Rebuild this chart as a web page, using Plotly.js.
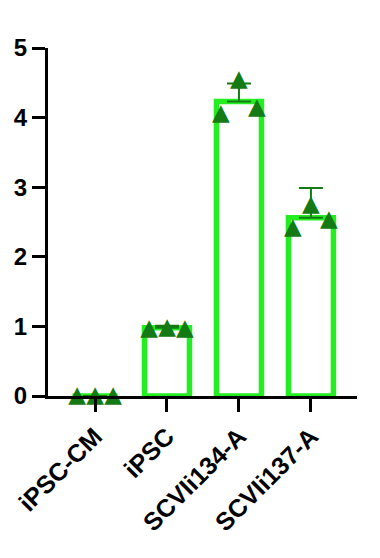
<!DOCTYPE html>
<html>
<head>
<meta charset="utf-8">
<script src="https://cdn.plot.ly/plotly-3.0.1.min.js"></script>
<style>html,body{margin:0;padding:0;background:#fff;}#chart{width:380px;height:558px;}</style>
</head>
<body>
<div id="chart"></div>
<script>
// ---- data ----
var categories = ['iPSC-CM', 'iPSC', 'SCVIi134-A', 'SCVIi137-A'];
var means = [0, 0.98, 4.23, 2.56];
var errUp = [0, 0.03, 0.26, 0.43];
var rep1 = [0, 0.96, 4.05, 2.41];
var rep2 = [0, 0.98, 4.53, 2.74];
var rep3 = [0, 0.96, 4.13, 2.53];
var yTicks = [0, 1, 2, 3, 4, 5];

// ---- styling ----
var barGreen = '#22ee22';
var dotGreen = '#147a14';
var font = 'Liberation Sans, Arial, sans-serif';
var jitter = [-0.25, 0, 0.25];

var idx = categories.map(function (c, i) { return i; });
var reps = [rep1, rep2, rep3];
var px = [], py = [];
reps.forEach(function (r, k) {
  r.forEach(function (v, i) { px.push(i + jitter[k]); py.push(v); });
});
var zeros = means.map(function () { return 0; });

var traces = [
  {
    type: 'bar', x: idx, y: means, width: 0.625,
    marker: { color: '#ffffff', line: { color: barGreen, width: 5.5 } },
    error_y: { type: 'data', symmetric: false, array: errUp, arrayminus: zeros,
               color: dotGreen, thickness: 2, width: 12 },
    hoverinfo: 'skip', showlegend: false
  },
  {
    type: 'scatter', mode: 'text', x: px, y: py,
    text: py.map(function () { return '\u25B2'; }),
    textposition: 'middle center',
    textfont: { family: 'DejaVu Sans', size: 23, color: dotGreen },
    cliponaxis: false, showlegend: false, hoverinfo: 'skip'
  }
];

var layout = {
  width: 380, height: 558,
  margin: { l: 48, r: 23, t: 48, b: 162 },
  paper_bgcolor: '#ffffff', plot_bgcolor: '#ffffff',
  showlegend: false,
  xaxis: {
    range: [-0.653, 3.64], tickvals: idx, ticktext: categories,
    tickangle: -45, ticks: 'outside', ticklen: 13, tickwidth: 3, tickcolor: '#000',
    showline: true, linewidth: 3, linecolor: '#000',
    showgrid: false, zeroline: false,
    tickfont: { family: font, size: 25, color: '#000', weight: 'bold' }
  },
  yaxis: {
    range: [0, 5], tickvals: yTicks,
    ticks: 'outside', ticklen: 13, tickwidth: 3, tickcolor: '#000',
    showline: true, linewidth: 3, linecolor: '#000',
    showgrid: false, zeroline: false,
    tickfont: { family: font, size: 24, color: '#000', weight: 'bold' }
  }
};

Plotly.newPlot('chart', traces, layout, { displayModeBar: false, staticPlot: true });
</script>
</body>
</html>
